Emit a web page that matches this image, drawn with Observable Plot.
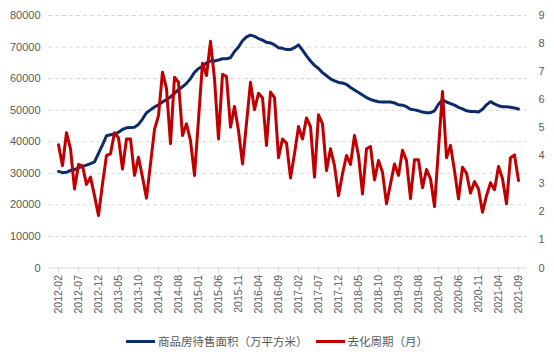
<!DOCTYPE html>
<html><head><meta charset="utf-8">
<script src="https://cdn.jsdelivr.net/npm/d3@7"></script>
<script src="https://cdn.jsdelivr.net/npm/@observablehq/plot@0.6"></script>
<style>
body{margin:0;background:#fff;}
#chart{width:554px;}
.legend{display:flex;justify-content:center;align-items:center;height:38px;width:554px;font-family:"Noto Sans CJK SC",sans-serif;font-size:11.5px;color:#595959;}
.item{display:flex;align-items:center;}
.sw{display:inline-block;width:29px;height:3px;margin-right:3px;}
</style></head><body><div id="chart"></div>
<div class="legend">
  <span class="item"><span class="sw" style="background:#0d2b6b"></span><span id="l1"></span></span>
  <span class="item" style="margin-left:8px"><span class="sw" style="background:#c00000"></span><span id="l2"></span></span>
</div>
<script>
const seriesNames = ["商品房待售面积（万平方米）", "去化周期（月）"];
const startYear = 2012, startMonth = 2, monthCount = 116;
const tickLabels = ["2012-02","2012-07","2012-12","2013-05","2013-10","2014-03","2014-08","2015-01","2015-06","2015-11","2016-04","2016-09","2017-02","2017-07","2017-12","2018-05","2018-10","2019-03","2019-08","2020-01","2020-06","2020-11","2021-04","2021-09"];
const leftTicks = [0,10000,20000,30000,40000,50000,60000,70000,80000];
const rightTicks = [0,1,2,3,4,5,6,7,8,9];
const area = [
  30600,30200,30300,30900,31200,31700,32200,32600,33100,33600,36300,39000,41900,42200,42500,43000,43900,44400,44500,44600,45500,47200,49200,50100,51000,51700,52600,53400,54200,
  55300,56500,57400,58500,60000,62000,63200,63900,65000,65600,65600,65900,66300,66300,66600,68600,70000,72000,73200,73800,73400,72700,72200,71500,71300,70700,69800,69600,69200,
  69200,69800,70700,69000,67200,65600,64200,63200,61900,60900,59900,59300,58800,58600,58200,57200,56400,55600,54800,54000,53400,53000,52700,52600,52600,52600,52300,51700,51600,
  51100,50300,50100,49800,49400,49200,49200,49800,51900,53300,52600,52100,51600,50900,50400,49800,49600,49600,49400,50300,51700,52700,52000,51400,51100,51100,50900,50700,50400
];
const cycle = [
  4.39,3.65,4.82,4.25,2.82,3.69,3.64,2.98,3.24,2.58,1.87,3.0,4.01,4.07,4.82,4.64,3.53,4.6,4.6,3.3,3.95,3.24,2.49,3.71,4.94,5.43,6.98,6.39,4.43,
  6.80,6.62,4.72,5.14,4.54,3.30,5.3,7.30,6.86,8.08,6.74,4.6,6.9,6.82,5.02,5.76,4.9,3.71,5.16,6.62,5.64,6.23,6.07,4.37,6.27,6.07,3.93,4.6,4.45,
  3.21,4.07,5.04,4.6,5.35,5.04,3.24,5.46,5.14,3.47,4.25,3.65,2.58,3.36,4.01,3.69,4.72,4.01,2.64,4.25,4.33,3.14,3.83,3.41,2.29,3.0,3.71,3.3,4.2,
  3.83,2.47,3.86,3.86,2.86,3.51,3.18,2.19,4.25,6.29,3.93,4.37,3.47,2.47,3.59,3.38,2.67,3.08,2.82,1.99,2.58,3.04,2.79,3.62,3.18,2.29,3.93,4.03,3.12
];

const months = [];
for (let i = 0; i < monthCount; i++) {
  const m0 = startMonth - 1 + i;
  const y = startYear + Math.floor(m0 / 12);
  const m = (m0 % 12) + 1;
  months.push(y + "-" + String(m).padStart(2, "0"));
}
const rows = months.map((m, i) => ({month: m, area: area[i], cycle: cycle[i]}));
const k = 80000 / 9;

document.getElementById("l1").textContent = seriesNames[0];
document.getElementById("l2").textContent = seriesNames[1];

const W = 554, H = 322;
const chart = Plot.plot({
  width: W, height: H,
  marginLeft: 48, marginRight: 27, marginTop: 15, marginBottom: 54.5,
  style: {fontFamily: "'Liberation Sans', Arial, sans-serif", fontSize: "11px", color: "#595959", background: "#fff"},
  x: {type: "point", domain: months, range: [49, 527], padding: 0},
  y: {domain: [0, 80000], range: [267.5, 15]},
  marks: [
    Plot.ruleY(leftTicks.filter(d => d > 0), {stroke: "#d9d9d9", strokeWidth: 1, strokeDasharray: "4,3"}),
    Plot.ruleY([0], {stroke: "#d9d9d9", strokeWidth: 1.2}),
    Plot.axisX(tickLabels, {tickSize: 5, stroke: "#d9d9d9", tickFormat: () => "", label: null}),
    Plot.axisX(tickLabels, {tickSize: 0, tickPadding: 7, tickRotate: -90, fill: "#595959", fontSize: 10.5, label: null}),
    Plot.axisY(leftTicks, {anchor: "left", tickSize: 0, tickPadding: 8, tickFormat: d => String(d), fill: "#595959", label: null}),
    Plot.axisY(rightTicks.map(t => t * k), {anchor: "right", tickSize: 0, tickPadding: 11, tickFormat: d => String(Math.round(d / k)), fill: "#595959", label: null}),
    Plot.line(rows, {x: "month", y: "area", stroke: "#0d2b6b", strokeWidth: 3, strokeLinejoin: "round"}),
    Plot.line(rows, {x: "month", y: d => d.cycle * k, stroke: "#c00000", strokeWidth: 3, strokeLinejoin: "round"})
  ]
});
document.getElementById("chart").appendChild(chart);
</script></body></html>
